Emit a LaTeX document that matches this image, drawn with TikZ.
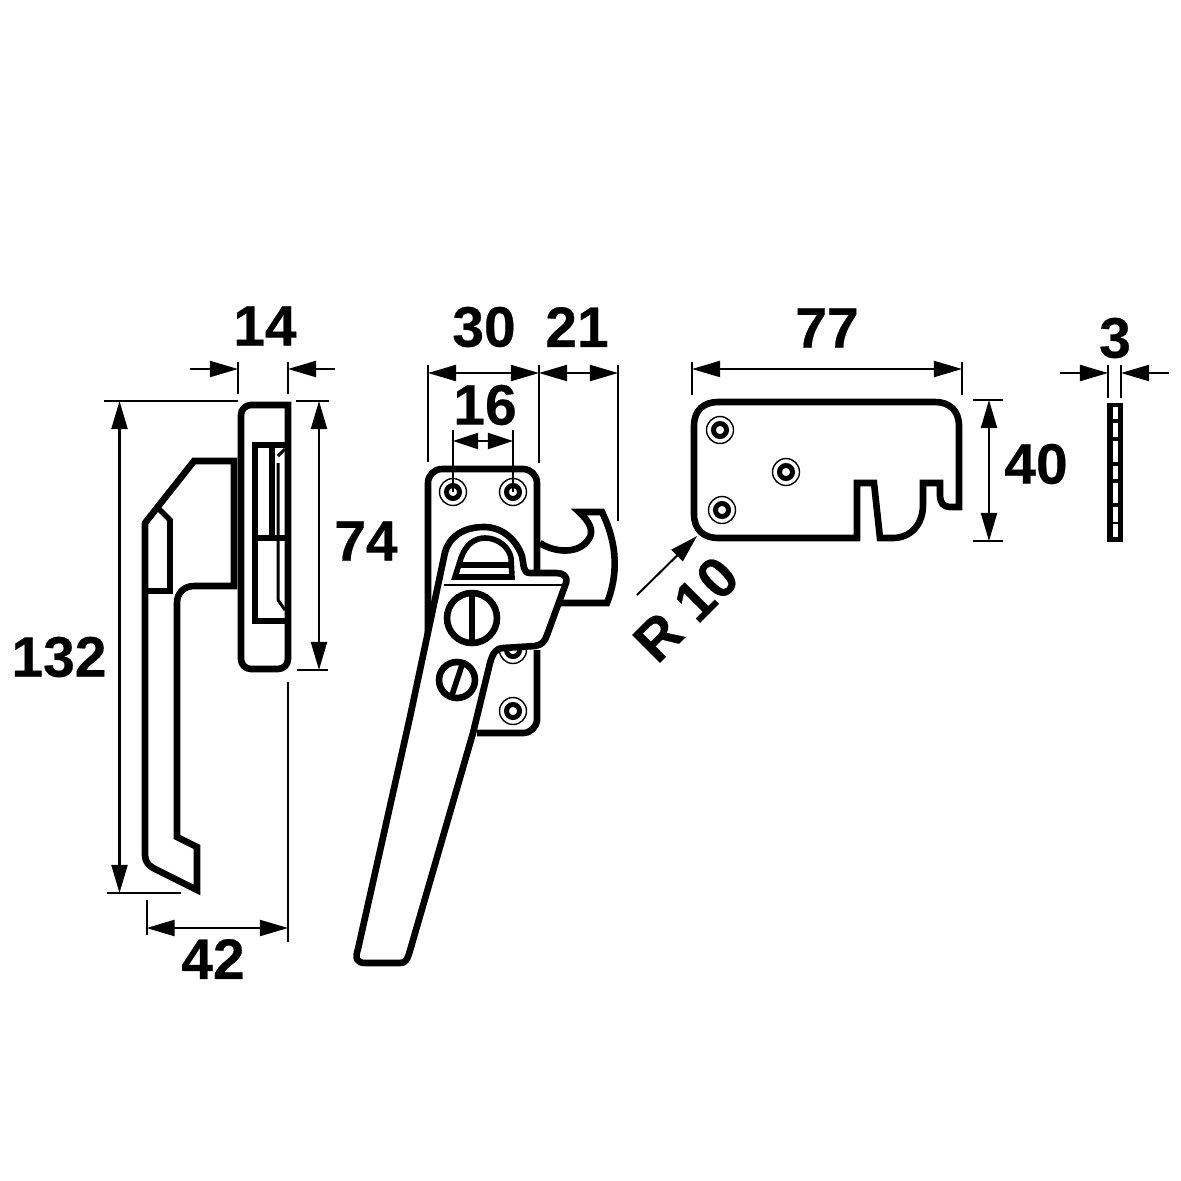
\documentclass[tikz,border=0pt]{standalone}
\usepackage{fontspec}
\setmainfont{Liberation Sans}[BoldFeatures={FakeBold=0.4}]
\usetikzlibrary{arrows.meta}

\begin{document}
\begin{tikzpicture}
[x=0.01cm,y=-0.01cm,
part/.style={draw=black,line width=0.066cm,fill=white},
inner line/.style={draw=black,line width=0.056cm},
dim/.style={draw=black,line width=0.02cm},
dimarrow/.style={draw=black,line width=0.02cm,{Triangle[length=0.28cm,width=0.16cm]}-{Triangle[length=0.28cm,width=0.16cm]}},
dimtip/.style={draw=black,line width=0.02cm,-{Triangle[length=0.28cm,width=0.16cm]}},
dimlabel/.style={inner sep=0pt,font=\fontsize{16.2}{19}\selectfont\bfseries}]
\useasboundingbox (0,0) rectangle (1181,1181);

% handle seen from the side
\draw[part,fill=none] (145,523) -- (194,461) -- (234,461) -- (234,586) -- (194,586) .. controls (184,586) and (177,593) .. (177,603) -- (177,837) -- (197,847) -- (197,890) -- (155,869) .. controls (149,866) and (145,862) .. (145,855) -- cycle;
\draw[inner line] (145,591) -- (170,591) -- (170,520) -- (158,508);
\draw[part,fill=none] (288,405) [rounded corners=0.1cm] -- (241,405) -- (241,669) -- (288,669) [sharp corners] -- cycle;
\draw[inner line] (285,445) -- (255,445) -- (255,621) -- (285,621);
\draw[inner line] (272,445) -- (272,538);
\draw[inner line] (255,538) -- (285,538);
\draw[dim,line width=0.03cm] (278,463) -- (278,600) -- (285,610);
\draw[dim,line width=0.03cm] (278,456) -- (285,449);

% lever seen from the front
\draw[part,fill=none] (540,543) .. controls (553,552) and (580,556) .. (590,537) .. controls (593,530) and (590,522) .. (579,512) -- (602,512) .. controls (618,545) and (618,575) .. (607,603) -- (555,603);
\draw[part] (537,650) -- (537,721) [rounded corners=0.14cm] -- (537,733) -- (477,733);
\draw[part,fill=none,rounded corners=0.14cm] (428,640) -- (428,469) -- (537,469) [sharp corners] -- (537,570);
\foreach \rx/\ry in {453/492,513/492,513/650,513/711}{
  \draw[line width=0.014cm] (\rx,\ry) circle (13.5);
  \draw[line width=0.05cm] (\rx,\ry) circle (6.5);
}
\draw[part,line join=round] (530,573) .. controls (523,573) and (524,566) .. (522,556) .. controls (515,537) and (500,527) .. (484,527) .. controls (462,527) and (447,538) .. (444,557) -- (410,717) -- (358,949) .. controls (355,958) and (356,963) .. (366,963) -- (400,963) .. controls (405,963) and (407,960) .. (409,954) -- (473,733) -- (490,663) .. controls (493,652) and (497,648) .. (503,648) -- (535,646) .. controls (542,645) and (545,641) .. (547,635) -- (566,583) .. controls (568,576) and (563,573) .. (556,573) -- cycle;
\draw[inner line] (455,577) -- (461,558) .. controls (466,544) and (475,538) .. (485,538) .. controls (498,538) and (509,547) .. (511,558) -- (512,577) -- cycle;
\draw[inner line,line width=0.06cm] (459,565) -- (509,565);
\draw[dim] (444,585) -- (562,585);
\draw[part,fill=none] (472,618) circle (25);
\draw[inner line] (472,593) -- (472,643);
\draw[part,fill=none] (457,680) circle (18);
\draw[inner line] (463,662) -- (451,698);

% keep plate
\draw[part] (718,402) -- (935,402) .. controls (949,402) and (959,410) .. (959,426) -- (959,507) -- (950,507) .. controls (944,507) and (940,503) .. (940,496) -- (940,483) -- (923,483) -- (923,505) .. controls (923,525) and (910,538) .. (893,538) -- (880,538) -- (874,483) -- (857,483) -- (857,538) -- (718,538) .. controls (704,538) and (694,530) .. (694,514) -- (694,426) .. controls (694,410) and (704,402) .. (718,402) -- cycle;
\foreach \rx/\ry in {720/430,786/472,722/510}{
  \draw[line width=0.014cm] (\rx,\ry) circle (13.5);
  \draw[line width=0.05cm] (\rx,\ry) circle (6.5);
}

% packer
\fill[black] (1107,403) rectangle (1123,542);
\foreach \ya/\yb in {407/419,423/437,441/462,466/479,483/503,507/522,524/537}{
  \fill[white] (1113,\ya) rectangle (1118,\yb);
}

% dimensions
\coordinate (a14l) at (238,369);
\coordinate (a14r) at (288,369);
\coordinate (a74t) at (319,401);
\coordinate (a74b) at (319,670);
\coordinate (a132t) at (119.5,401);
\coordinate (a132b) at (119.5,893);
\coordinate (a42l) at (146.5,928);
\coordinate (a42r) at (288,928);
\coordinate (a30l) at (428,373);
\coordinate (a30r) at (539,373);
\coordinate (a21r) at (618,373);
\coordinate (a16l) at (453,441);
\coordinate (a16r) at (513,441);
\coordinate (a77l) at (692,369);
\coordinate (a77r) at (962,369);
\coordinate (a40t) at (989,400);
\coordinate (a40b) at (989,541);
\coordinate (a3l) at (1108,373);
\coordinate (a3r) at (1121,373);

\draw[dimtip] (190,369) -- (a14l);
\draw[dimtip] (335,369) -- (a14r);
\draw[dimarrow] (a74t) -- (a74b);
\draw[dimarrow] (a132t) -- (a132b);
\draw[dimarrow] (a42l) -- (a42r);
\draw[dimarrow] (a30l) -- (a30r);
\draw[dimarrow] (a30r) -- (a21r);
\draw[dim,{Triangle[length=0.25cm,width=0.16cm]}-{Triangle[length=0.25cm,width=0.16cm]}] (a16l) -- (a16r);
\draw[dimarrow] (a77l) -- (a77r);
\draw[dimarrow] (a40t) -- (a40b);
\draw[dimtip] (1060,373) -- (a3l);
\draw[dimtip] (1169,373) -- (a3r);
\draw[dimtip] (637,595) -- (697,536);

\draw[dim] (238,362) -- (238,394);
\draw[dim] (288,362) -- (288,394);
\draw[dim] (104,400.5) -- (238,400.5);
\draw[dim] (296,400.5) -- (329,400.5);
\draw[dim] (297,670) -- (328,670);
\draw[dim] (107,893) -- (181,893);
\draw[dim] (288,682) -- (288,942);
\draw[dim] (146.5,900) -- (146.5,935);
\draw[dim] (428,365) -- (428,462);
\draw[dim] (539,365) -- (539,463);
\draw[dim] (618,365) -- (618,521);
\draw[dim] (453,430) -- (453,492);
\draw[dim] (513,430) -- (513,492);
\draw[dim] (692,362) -- (692,395);
\draw[dim] (962,362) -- (962,395);
\draw[dim] (973,400) -- (1003,400);
\draw[dim] (973,541) -- (1003,541);
\draw[dim] (1108,365) -- (1108,398);
\draw[dim] (1121,365) -- (1121,398);

\node[dimlabel] (l14) at (265,326) {14};
\node[dimlabel] (l74) at (366,541) {74};
\node[dimlabel] (l132) at (59,657) {132};
\node[dimlabel] (l42) at (213,959) {42};
\node[dimlabel] (l30) at (484,327) {30};
\node[dimlabel] (l21) at (577,327) {21};
\node[dimlabel] (l16) at (485,405) {16};
\node[dimlabel] (l77) at (827,328) {77};
\node[dimlabel] (l40) at (1036,464) {40};
\node[dimlabel] (l3) at (1115,338) {3};
\node[dimlabel,rotate=45] (lr10) at (686,609) {R 10};
\end{tikzpicture}
\end{document}
